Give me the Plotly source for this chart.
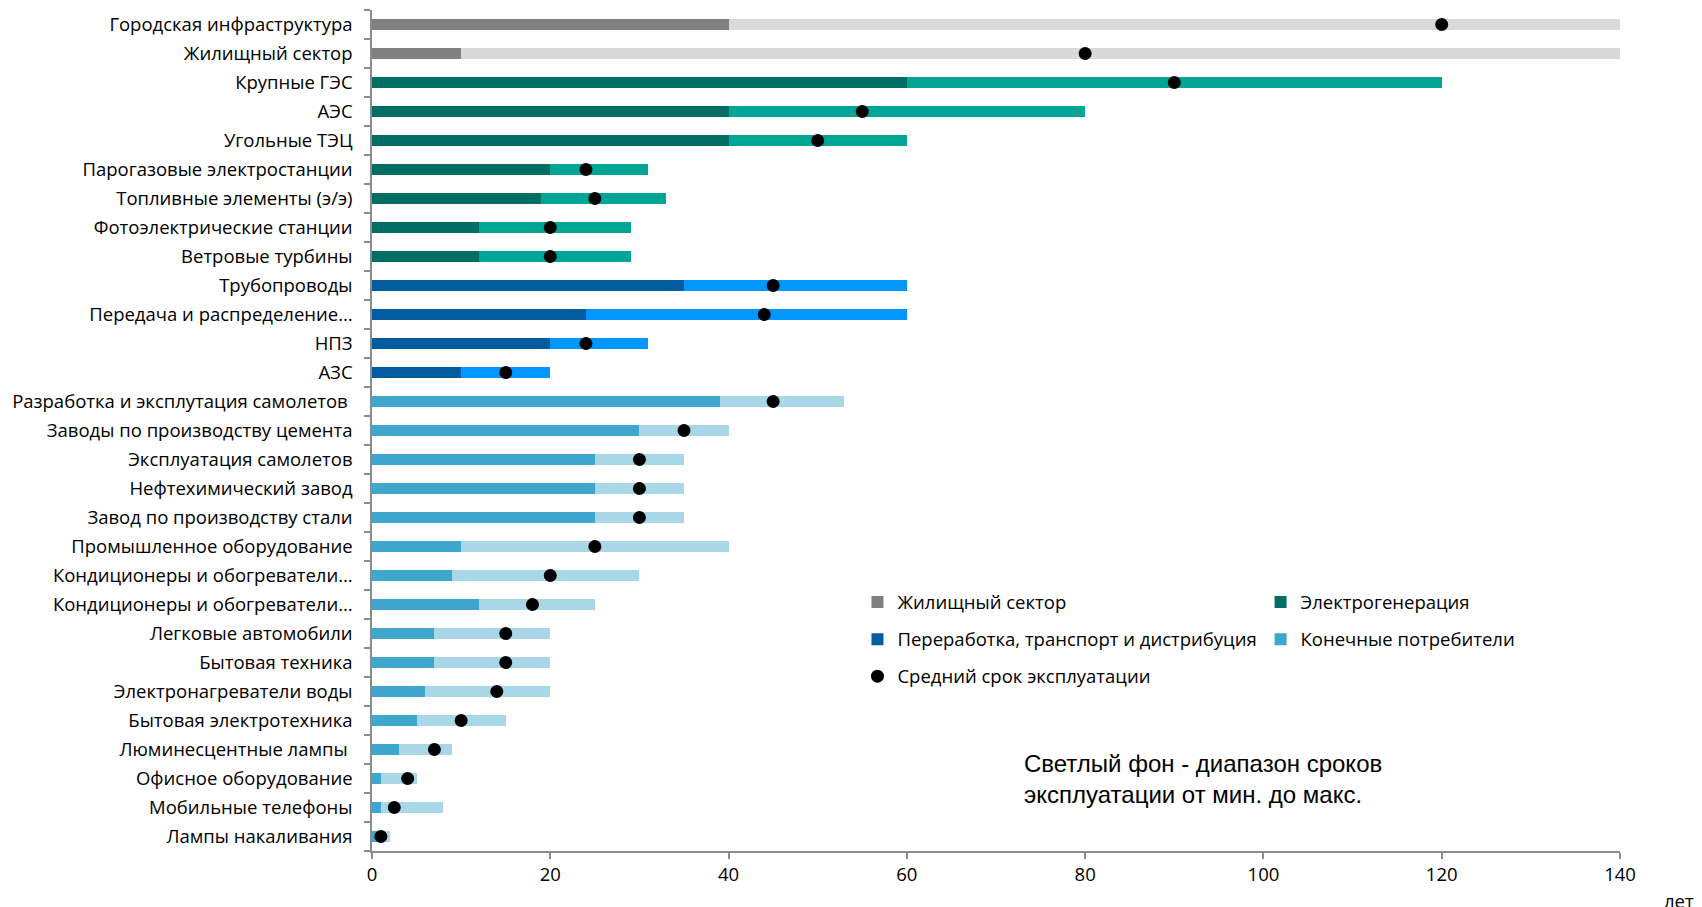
import plotly.graph_objects as go

# Categories, top to bottom
categories = [
    "Городская инфраструктура",
    "Жилищный сектор",
    "Крупные ГЭС",
    "АЭС",
    "Угольные ТЭЦ",
    "Парогазовые электростанции",
    "Топливные элементы (э/э)",
    "Фотоэлектрические станции",
    "Ветровые турбины",
    "Трубопроводы",
    "Передача и распределение…",
    "НПЗ",
    "АЗС",
    "Разработка и эксплутация самолетов ",
    "Заводы по производству цемента",
    "Эксплуатация самолетов",
    "Нефтехимический завод",
    "Завод по производству стали",
    "Промышленное оборудование",
    "Кондиционеры и обогреватели…",
    "Кондиционеры и обогреватели…",
    "Легковые автомобили",
    "Бытовая техника",
    "Электронагреватели воды",
    "Бытовая электротехника",
    "Люминесцентные лампы ",
    "Офисное оборудование",
    "Мобильные телефоны",
    "Лампы накаливания",
]

# Sector of each category
sector = [0, 0, 1, 1, 1, 1, 1, 1, 1, 2, 2, 2, 2,
          3, 3, 3, 3, 3, 3, 3, 3, 3, 3, 3, 3, 3, 3, 3, 3]

# Service life, years
life_min = [40, 10, 60, 40, 40, 20, 19, 12, 12, 35, 24, 20, 10,
            39, 30, 25, 25, 25, 10, 9, 12, 7, 7, 6, 5, 3, 1, 1, 1]
life_max = [140, 140, 120, 80, 60, 31, 33, 29, 29, 60, 60, 31, 20,
            53, 40, 35, 35, 35, 40, 30, 25, 20, 20, 20, 15, 9, 5, 8, 2]
life_avg = [120, 80, 90, 55, 50, 24, 25, 20, 20, 45, 44, 24, 15,
            45, 35, 30, 30, 30, 25, 20, 18, 15, 15, 14, 10, 7, 4, 2.5, 1]

sector_names = ["Жилищный сектор", "Электрогенерация",
                "Переработка, транспорт и дистрибуция", "Конечные потребители"]
dark_colors = ["#808080", "#006e62", "#005c9e", "#3fa6cd"]
light_colors = ["#d9d9d9", "#00a596", "#0096ff", "#a8d8e8"]
legend_ref = ["legend", "legend2", "legend", "legend2"]

x_ticks = [0, 20, 40, 60, 80, 100, 120, 140]

LABEL_FONT = "'Open Sans', 'Noto Sans', sans-serif"
LABEL_SIZE = 18.5
BAR_W = 0.38

fig = go.Figure()
rows = list(range(len(categories)))

# light range bars: from min to max
for s in range(4):
    idx = [i for i in rows if sector[i] == s]
    fig.add_trace(go.Bar(
        orientation="h",
        y=idx,
        x=[life_max[i] - life_min[i] for i in idx],
        base=[life_min[i] for i in idx],
        width=BAR_W,
        marker=dict(color=light_colors[s], line=dict(width=0)),
        showlegend=False,
        hoverinfo="skip",
    ))

# dark bars: minimum service life
for s in range(4):
    idx = [i for i in rows if sector[i] == s]
    fig.add_trace(go.Bar(
        orientation="h",
        y=idx,
        x=[life_min[i] for i in idx],
        width=BAR_W,
        name=sector_names[s],
        legend=legend_ref[s],
        legendgroup=f"g{s}",
        marker=dict(color=dark_colors[s], line=dict(width=0)),
    ))

# average service life dots
fig.add_trace(go.Scatter(
    x=life_avg,
    y=rows,
    mode="markers",
    name="Средний срок эксплуатации",
    legend="legend",
    legendgroup="avg",
    marker=dict(color="black", size=13, line=dict(width=0)),
))

legend_common = dict(
    orientation="v",
    xanchor="left",
    yanchor="top",
    bgcolor="rgba(0,0,0,0)",
    font=dict(family=LABEL_FONT, size=LABEL_SIZE, color="#000000"),
    tracegroupgap=10,
    itemwidth=30,
    traceorder="grouped",
)

fig.update_layout(
    width=1702,
    height=907,
    margin=dict(l=372, r=82, t=10, b=56),
    paper_bgcolor="white",
    plot_bgcolor="white",
    barmode="overlay",
    bargap=0,
    font=dict(family=LABEL_FONT, size=LABEL_SIZE, color="#000000"),
    legend=dict(x=0.389, y=0.318, **legend_common),
    legend2=dict(x=0.712, y=0.318, **legend_common),
    xaxis=dict(
        range=[0, 140],
        tickvals=x_ticks,
        ticktext=[str(v) for v in x_ticks],
        showgrid=False,
        zeroline=False,
        showline=True,
        linecolor="#8c8c8c",
        linewidth=1.5,
        ticks="outside",
        ticklen=6,
        tickcolor="#8c8c8c",
        tickwidth=1.5,
        tickfont=dict(family=LABEL_FONT, size=LABEL_SIZE),
    ),
    yaxis=dict(
        range=[28.5, -0.5],
        tickvals=rows,
        ticktext=categories,
        showgrid=False,
        zeroline=False,
        showline=True,
        linecolor="#8c8c8c",
        linewidth=1.5,
        ticks="",
        ticklabelstandoff=14,
        tickfont=dict(family=LABEL_FONT, size=LABEL_SIZE),
        minor=dict(
            tick0=0.5,
            dtick=1,
            ticks="outside",
            ticklen=6,
            tickcolor="#8c8c8c",
            tickwidth=1.5,
            showgrid=False,
        ),
    ),
)

fig.add_annotation(
    text="Светлый фон - диапазон сроков<br>эксплуатации от мин. до макс.",
    xref="paper", yref="paper",
    x=(1022 - 372) / 1248, y=(851 - 748) / 841,
    xanchor="left", yanchor="top",
    align="left",
    showarrow=False,
    font=dict(family="'Liberation Sans', Arial, sans-serif", size=24, color="#000000"),
)

fig.add_annotation(
    text="лет",
    xref="paper", yref="paper",
    x=1.0, y=(851 - 886) / 841,
    xanchor="left", yanchor="top",
    xshift=42,
    showarrow=False,
    font=dict(family=LABEL_FONT, size=LABEL_SIZE, color="#000000"),
)

fig.write_html("out.html")
